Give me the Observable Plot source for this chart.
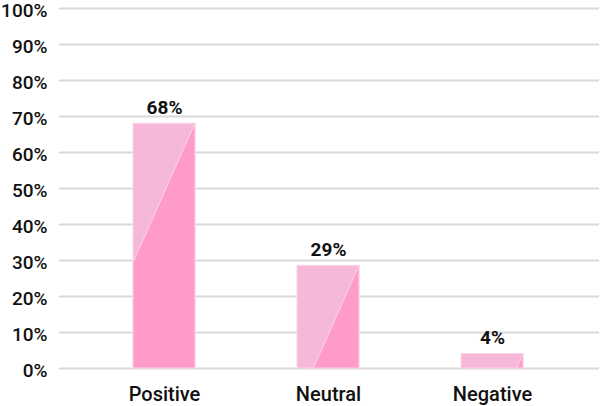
<!DOCTYPE html>
<html>
<head>
<meta charset="utf-8">
<script src="https://cdn.jsdelivr.net/npm/d3@7"></script>
<script src="https://cdn.jsdelivr.net/npm/@observablehq/plot@0.6"></script>
<style>
  html, body { margin: 0; padding: 0; background: #fff; }
  svg { display: block; font-family: Roboto, "Noto Sans", sans-serif; }
</style>
</head>
<body>
<div id="chart"></div>
<script>
const categories = ["Positive", "Neutral", "Negative"];
const values = [0.68, 0.285, 0.04];
const valueLabels = ["68%", "29%", "4%"];
const yTicks = [0, 0.1, 0.2, 0.3, 0.4, 0.5, 0.6, 0.7, 0.8, 0.9, 1.0];

const data = categories.map((c, i) => ({category: c, value: values[i], label: valueLabels[i]}));

const lightPink = "#f6b8d9";
const darkPink = "#ff9bca";
const slope = 2.25; // pixel slope of the diagonal split inside each bar

const chart = Plot.plot({
  width: 600,
  height: 406,
  marginLeft: 59,
  marginRight: 1,
  marginTop: 8,
  marginBottom: 38,
  style: {fontFamily: "Roboto, 'Noto Sans', sans-serif", background: "#fff", overflow: "visible"},
  x: {domain: categories, range: [59, 598], paddingInner: 0.62, paddingOuter: 0.45, label: null},
  y: {domain: [0, 1], label: null},
  marks: [
    Plot.ruleY(yTicks, {stroke: "#d9d9d9", strokeWidth: 2}),
    Plot.barY(data, {
      x: "category",
      y: "value",
      fill: lightPink,
      stroke: "#fbd3e6",
      strokeWidth: 1,
      render(index, scales, values, dimensions, context, next) {
        const g = next(index, scales, values, dimensions, context);
        const bw = scales.x.bandwidth();
        const ns = "http://www.w3.org/2000/svg";
        for (const i of index) {
          const x0 = values.x[i];
          const x1 = x0 + bw;
          const yTop = values.y2[i];
          const yBot = values.y1[i];
          const top = Math.min(yTop, yBot), bot = Math.max(yTop, yBot);
          const h = bot - top;
          const run = h / slope;
          let pts;
          if (run >= bw) {
            const yLeft = top + bw * slope;
            pts = [[x1, top], [x1, bot], [x0, bot], [x0, yLeft]];
          } else {
            pts = [[x1, top], [x1, bot], [x1 - run, bot]];
          }
          const p = document.createElementNS(ns, "polygon");
          p.setAttribute("points", pts.map(d => d.join(",")).join(" "));
          p.setAttribute("fill", darkPink);
          g.appendChild(p);
        }
        return g;
      }
    }),
    Plot.text(data, {
      x: "category",
      y: "value",
      text: "label",
      dy: -10,
      lineAnchor: "bottom",
      fontSize: 19,
      fontWeight: "bold",
      fill: "#111"
    }),
    Plot.axisY(yTicks, {
      tickSize: 0,
      tickPadding: 12,
      dy: 2,
      tickFormat: d3.format(".0%"),
      fontSize: 19,
      fontWeight: 500,
      fill: "#111",
      label: null
    }),
    Plot.axisX({
      tickSize: 0,
      tickPadding: 18,
      fontSize: 20,
      fontWeight: 500,
      fill: "#111",
      label: null
    })
  ]
});
document.getElementById("chart").appendChild(chart);
</script>
</body>
</html>
